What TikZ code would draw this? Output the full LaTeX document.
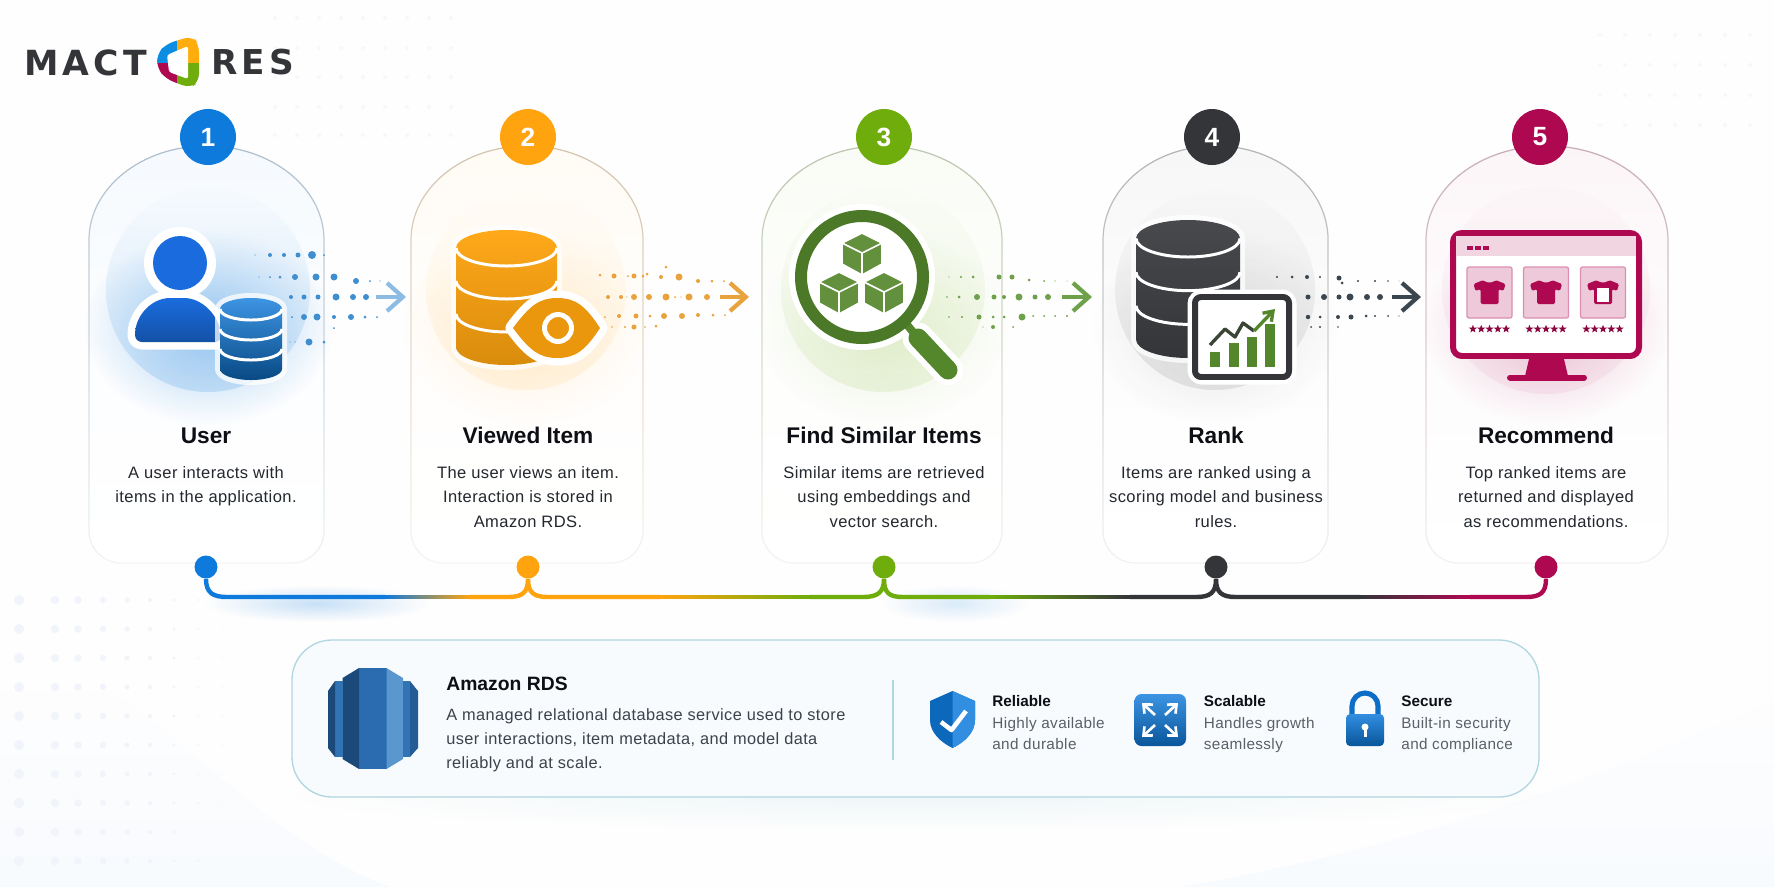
\documentclass[tikz,border=0pt]{standalone}
\usepackage{fontspec}
\setmainfont[LetterSpace=2.5,BoldFeatures={LetterSpace=0}]{Liberation Sans}
\newfontfamily\logofont[LetterSpace=12]{DejaVu Sans}
\usetikzlibrary{arrows.meta,fadings,shapes.geometric}
\definecolor{tone1}{RGB}{13,122,220}
\definecolor{tone2}{RGB}{255,164,14}
\definecolor{tone3}{RGB}{110,173,12}
\definecolor{tone4}{RGB}{51,53,56}
\definecolor{tone5}{RGB}{174,8,80}
\definecolor{flow1}{RGB}{63,143,208}
\definecolor{flow2}{RGB}{232,163,60}
\definecolor{flow3}{RGB}{111,161,74}
\definecolor{flow4}{RGB}{58,70,80}
\definecolor{leaf}{RGB}{84,134,44}
\definecolor{userblue}{RGB}{26,108,222}
\definecolor{rds1}{RGB}{27,74,122}
\definecolor{rds2}{RGB}{43,108,176}
\definecolor{rds3}{RGB}{91,151,207}
\definecolor{rds4}{RGB}{50,115,180}
\definecolor{ink}{RGB}{13,15,20}
\definecolor{bodyink}{RGB}{35,39,46}
\definecolor{panelink}{RGB}{60,66,74}
\definecolor{mutedink}{RGB}{90,96,104}
\definecolor{paledot}{RGB}{238,243,250}
\definecolor{panelfill}{RGB}{248,251,254}
\definecolor{paneledge}{RGB}{176,214,224}
\definecolor{wash}{RGB}{248,251,254}
\tikzfading[name=softglow,inner color=transparent!50,outer color=transparent!100]
\tikzfading[name=edgefade,top color=transparent!10,bottom color=transparent!85]
\tikzset{
  stepdot/.style={circle,fill=#1,text=white,minimum size=1.12cm,inner sep=0pt,font=\bfseries\fontsize{15}{17}\selectfont},
  railbeing/.style={circle,fill=#1,minimum size=.46cm,inner sep=0pt},
  railline/.style={line width=2.5pt},
  cardtitle/.style={anchor=base,text=ink,font=\bfseries\fontsize{12.9}{15}\selectfont},
  cardtext/.style={anchor=north,align=center,inner sep=0pt,text=bodyink,font=\fontsize{9.4}{13.9}\selectfont},
  whitehalo/.style={preaction={draw=white,line width=.2cm,line join=round,draw opacity=.75}},
  flowhead/.style={line width=2.4pt,-{Straight Barb[length=9pt,width=16pt,line width=2.4pt]}},
  feattitle/.style={anchor=base west,inner sep=0pt,text=ink,font=\bfseries\fontsize{8.7}{10}\selectfont},
  feattext/.style={anchor=base west,inner sep=0pt,text=mutedink,font=\fontsize{8.7}{10}\selectfont}
}
% cx, top, rx, ry, height, top colour, bottom colour
\newcommand{\dbstack}[7]{
\pgfmathsetmacro{\dbbot}{#2+#5}
\pgfmathsetmacro{\dbgap}{(#5-2*#4)/3}
\shade[whitehalo,top color=#6,bottom color=#7] (#1-#3,#2+#4) arc[start angle=180,end angle=360,x radius=#3,y radius=#4] -- (#1+#3,\dbbot-#4) arc[start angle=0,end angle=180,x radius=#3,y radius=#4] -- cycle;
\foreach \k in {0,1,2}
{
\draw[white,line width=1.7pt] (#1-#3,#2+#4+\k*\dbgap) arc[start angle=180,end angle=0,x radius=#3,y radius=#4];
}
}
\newcommand{\cubeblock}[2]{
\begin{scope}[shift={(#1,#2)}]
\fill[leaf!92!white,draw=white,line width=.9pt,line join=round] (0,0) -- (20,10) -- (20,31) -- (0,42) -- (-20,31) -- (-20,10) -- cycle;
\draw[white,line width=.9pt] (-20,10) -- (0,20) -- (20,10) (0,20) -- (0,42);
\end{scope}
}
\newcommand{\shirtshape}[2]{
\begin{scope}[shift={(#1,#2)}]
\fill[tone5,rounded corners=.03cm] (-6,-12) .. controls (-3,-9) and (3,-9) .. (6,-12) -- (16,-8) -- (14,-1) -- (9,-3) -- (9,12) -- (-9,12) -- (-9,-3) -- (-14,-1) -- (-16,-8) -- cycle;
\end{scope}
}
\begin{document}
\begin{tikzpicture}[x=0.02cm,y=-0.02cm]
\useasboundingbox (0,0) rectangle (1774,887);
\fill[white!99!gray] (0,0) rectangle (1774,887);

% background
\fill[wash,path fading=north] (0,690) -- (110,690) .. controls (220,770) and (290,850) .. (390,887) -- (0,887) -- cycle;
\fill[wash,path fading=north] (1180,887) .. controls (1400,850) and (1600,780) .. (1774,700) -- (1774,887) -- cycle;
\foreach \x in {275,297,...,462}
\foreach \y in {18,48,77,107,135}
{
\fill[paledot!55!white] (\x,\y) circle (2);
}
\foreach \x in {1600,1625,...,1770}
\foreach \y in {35,65,95,125}
{
\fill[paledot!55!white] (\x,\y) circle (2);
}
\foreach \x in {19,55,78,103,127,150,174,198,222}
\foreach \y in {600,629,...,887}
{
\pgfmathsetmacro{\dotr}{max(0.8,5.5-\x/45)}
\fill[paledot!80!white] (\x,\y) circle (\dotr);
}

% logo
\node[anchor=west,inner sep=0pt,text=tone4,font=\logofont\bfseries\fontsize{19.7}{22}\selectfont] (logoa) at (24,62.5) {MACT};
\node[anchor=west,inner sep=0pt,text=tone4,font=\logofont\bfseries\fontsize{19.5}{22}\selectfont] (logob) at (211,62.5) {RES};
\begin{scope}
\clip[rounded corners=.16cm] (192,36) -- (199,44) -- (199,82) -- (190,88) -- (166,79) -- (157,68) -- (157,54) -- (166,44) -- cycle;
\fill[tone1!85!cyan] (150,30) rectangle (177,63);
\fill[tone2!90!yellow] (177,30) rectangle (205,63);
\fill[tone5] (150,63) rectangle (177,95);
\fill[tone3] (177,63) rectangle (205,95);
\end{scope}
\fill[white,rounded corners=.05cm] (188,46) -- (188,79) -- (169,72) -- (167,55) -- cycle;

% cards
\foreach \n/\lx/\rx/\hx/\hr/\hb/\go/\cx/\sx/\tt/\ty in {
1/89/324/208/102/17/.7/206/208/User/{A user interacts with\\items in the application.},
2/411/643/526/100/10/.28/528/528/Viewed Item/{The user views an item.\\Interaction is stored in\\Amazon RDS.},
3/762/1002/883/102/11/.28/884/884/Find Similar Items/{Similar items are retrieved\\using embeddings and\\vector search.},
4/1103/1328/1215/100/12/.22/1216/1212/Rank/{Items are ranked using a\\scoring model and business\\rules.},
5/1426/1668/1546/104/6/.42/1546/1540/Recommend/{Top ranked items are\\returned and displayed\\as recommendations.}}
{
\pgfmathsetmacro{\rad}{(\rx-\lx)/2}
\shade[top color=tone\n!4,bottom color=white,middle color=tone\n!1] (\lx,240) arc[start angle=180,end angle=360,x radius=\rad,y radius=94] -- (\rx,531) arc[start angle=0,end angle=90,radius=32] -- (\lx+32,563) arc[start angle=90,end angle=180,radius=32] -- cycle;
\draw[tone\n!30!gray!55,line width=.7pt,path fading=edgefade] (\lx,240) arc[start angle=180,end angle=360,x radius=\rad,y radius=94] -- (\rx,531) arc[start angle=0,end angle=90,radius=32] -- (\lx+32,563) arc[start angle=90,end angle=180,radius=32] -- cycle;
\shade[top color=tone\n!4,bottom color=tone\n!\hb] (\hx,290) circle (\hr);
\fill[tone\n,opacity=\go,path fading=softglow] (\hx-125,230) rectangle (\hx+125,425);
\node[stepdot=tone\n] (step\n) at (\sx,137) {\n};
\node[railbeing=tone\n] (dot\n) at (\cx,567) {};
\node[cardtitle] (title\n) at (\cx,443) {\tt};
\node[cardtext] (text\n) at (\cx,466) {\ty};
}

% rail
\fill[tone1!45,path fading=softglow] (205,585) rectangle (430,622);
\fill[tone1!30,path fading=softglow] (880,585) rectangle (1030,622);
\foreach \a/\b/\xa/\xl/\xr/\xb in {1/2/227/385/470/508,2/3/548/660/810/863,3/4/903/990/1130/1196,4/5/1236/1360/1470/1526}
{
\coordinate (turn\a) at (\xa,597);
\coordinate (back\b) at (\xb,597);
\coordinate (fadel\a) at (\xl,597);
\coordinate (fader\a) at (\xr,597);
\draw[railline,tone\a] (dot\a.south) .. controls +(0,14) and +(-14,0) .. (turn\a) -- (fadel\a);
\draw[railline,tone\b] (fader\a) -- (back\b) .. controls +(14,0) and +(0,14) .. (dot\b.south);
\shade[left color=tone\a,right color=tone\b] (\xl,595.2) rectangle (\xr,598.8);
}

% user
\fill[white] (180,263) circle (36);
\fill[userblue] (180,263) circle (27);
\shade[preaction={draw=white,line width=.3cm,line join=round},top color=userblue,bottom color=userblue!75!black,rounded corners=.14cm] (135,342) .. controls (135,315) and (152,298) .. (177,298) .. controls (202,298) and (219,315) .. (222,342) -- cycle;
\dbstack{251}{298}{31}{11}{82}{tone1!80!white}{tone1!60!black}

% dots for step 1
\foreach \x/\y/\r in {255/255/.6,270/255/2,284/255/2,298/255/2.5,312/255/4,324/255/1,259/277/.7,270/277/1,280/277/1.5,295/277/3,316/277/3.5,334/277/3.5,356/281/3,370/281/1,380/281/.7,291/297/2,304/297/2.5,318/297/2.5,336/297/3.5,353/297/3,366/297/3,292/317/1,304/317/3,317/317/3.5,334/317/2,351/317/3,365/317/1.5,377/317/1,334/328/1,290/342/.7,295/342/.7,309/342/3.5,324/342/1.5}
{
\fill[flow1] (\x,\y) circle (\r);
}

% viewed item
\dbstack{506.5}{230}{50.5}{18}{135}{tone2!95!white}{tone2!85!black}
\path[preaction={draw=white,line width=.3cm,line join=round},fill=tone2!92!black] (513,328) .. controls (530,305) and (540,298) .. (557,298) .. controls (575,298) and (585,305) .. (600,328) .. controls (585,351) and (575,358) .. (557,358) .. controls (540,358) and (530,351) .. (513,328) -- cycle;
\draw[white,line width=2.8pt] (558,328) circle (13.5);

% dots for step 2
\foreach \x/\y/\r in {600/275/1.5,614/276/2.5,628/276/1,634/276/2.5,643/276/1.5,647/274/1.5,661/277/2,666/267/1.5,679/277/3.5,698/281/2,712/281/1.5,724/281/1,608/297/2,621/297/2,627/297/.7,634/297/3,649/297/3,666/297/3.5,675/297/1,681/297/.7,689/297/3.5,707/297/3,605/317/1,619/316/2,636/316/2.5,650/316/1.5,664/316/3,682/316/3,698/315/2,713/315/1.5,725/315/1,612/327/.8,625/327/1.2,634/327/2.5,645/327/.8,656/326/1.5}
{
\fill[flow2] (\x,\y) circle (\r);
}

% find similar items
\fill[white] (862,277) circle (73);
\draw[white,line width=.62cm,line cap=round] (918,338) -- (948,370);
\draw[leaf,line width=.16cm] (903,320) -- (918,338);
\draw[leaf,line width=.38cm,line cap=round] (918,338) -- (948,370);
\draw[leaf!90!black,line width=.24cm] (862,277) circle (61);
\cubeblock{862}{233}
\cubeblock{839}{272}
\cubeblock{884}{272}

% dots for step 3
\foreach \x/\y/\r in {949/277/.7,961/277/1.2,973/277/1.5,999/277/2.5,1012/277/2.5,1029/280/1.5,1044/281/1,1055/281/.7,1067/281/.5,947/297/.8,959/297/1.5,977/297/3,994/297/2.5,1004/297/2,1019/297/3.5,1035/297/2.5,1048/297/3,949/317/.8,962/317/1.2,979/317/2.5,993/317/1.5,1004/317/1.5,1022/317/3.5,1033/316/1,1044/316/1,1055/316/1,1067/316/1.2,993/327/2,983/327/.6,1013/327/1}
{
\fill[flow3] (\x,\y) circle (\r);
}

% rank
\dbstack{1188}{220}{52}{18.5}{138}{tone4!90!white}{tone4}
\draw[white,line width=.3cm,rounded corners=.14cm] (1195,297) rectangle (1289,377);
\draw[tone4,fill=white,line width=3.4pt,rounded corners=.12cm] (1195,297) rectangle (1289,377);
\foreach \x/\y in {1210/352,1229/343,1247/337,1265/324}
{
\fill[leaf] (\x,\y) rectangle (\x+10,367);
}
\draw[tone4!80!leaf,line width=1.9pt,line join=round] (1210,345) -- (1225,329) -- (1235,337) -- (1243,323) -- (1254,331);
\draw[leaf,line width=1.9pt,-{Straight Barb[length=5pt,width=7pt]}] (1254,331) -- (1275,309);

% dots for step 4
\foreach \x/\y/\r in {1277/277/1.2,1292/277/1.5,1307/277/2,1320/277/1.2,1339/278/2.5,1342/283/1.5,1358/281/1.2,1375/281/1.2,1388/281/.8,1399/281/.4,1308/297/2.5,1324/297/3,1339/297/2.5,1350/297/3.5,1367/297/3,1380/297/3,1308/317/2.2,1320/317/1.5,1338/317/2,1351/317/2.5,1366/316/1.5,1375/316/1.2,1388/316/1,1399/316/.6,1311/327/1,1320/327/1.2,1338/327/.8}
{
\fill[flow4] (\x,\y) circle (\r);
}

% recommend
\fill[tone5] (1530,355) -- (1563,355) -- (1568,376) -- (1525,376) -- cycle;
\draw[tone5,line width=.12cm,line cap=round] (1510,377.5) -- (1584,377.5);
\draw[tone5,fill=white,line width=3.4pt,rounded corners=.18cm] (1453,233) rectangle (1639,356);
\fill[tone5!17] (1456,236) rectangle (1636,256);
\foreach \x in {1467,1475,1483}
{
\fill[tone5] (\x,246) rectangle (\x+6,250);
}
\foreach \x/\j in {1489.5/1,1546/2,1603/3}
{
\draw[tone5!45,fill=tone5!22,line width=.7pt,rounded corners=.04cm] (\x-22.5,267) rectangle (\x+22.5,318);
\shirtshape{\x}{292}
\foreach \i in {-2,-1,0,1,2}
{
\node[star,star points=5,star point ratio=2.4,fill=tone5!80!black,inner sep=0pt,minimum size=.17cm] (star\j\i) at (\x+\i*8.3,329) {};
}
}
\fill[white] (1597,288) rectangle (1609,302);

% arrows between the steps
\foreach \n/\xa/\xb in {1/376/406,2/720/749,3/1062/1092,4/1392/1421}
{
\coordinate (flowa\n) at (\xa,297);
\coordinate (flowb\n) at (\xb,297);
}
\draw[flowhead,flow1!60!white] (flowa1) -- (flowb1);
\draw[flowhead,flow2] (flowa2) -- (flowb2);
\draw[flowhead,flow3] (flowa3) -- (flowb3);
\draw[flowhead,flow4] (flowa4) -- (flowb4);

% panel
\fill[paneledge!40,path fading=softglow] (292,760) rectangle (1539,830);
\draw[paneledge,fill=panelfill,line width=.75pt,rounded corners=.8cm] (292,640) rectangle (1539,797);
\fill[rds2] (359,668) rectangle (386.5,769);
\fill[rds1] (342.5,678) -- (359,668) -- (359,769) -- (342.5,759) -- cycle;
\fill[rds3] (386.5,668) -- (403,678) -- (403,759) -- (386.5,769) -- cycle;
\fill[rds4] (342.5,681) -- (335,681) -- (335,757) -- (342.5,757) -- cycle;
\fill[rds1] (335,681) -- (328,691) -- (328,748) -- (335,757) -- cycle;
\fill[rds4] (403,681) -- (410,681) -- (410,757) -- (403,757) -- cycle;
\fill[rds2!85!black] (410,681) -- (418,691) -- (418,748) -- (410,757) -- cycle;
\node[anchor=base west,inner sep=0pt,text=ink,font=\bfseries\fontsize{11}{13}\selectfont] (rdstitle) at (446,690) {Amazon RDS};
\node[anchor=north west,align=left,inner sep=0pt,text=panelink,font=\fontsize{9.3}{13.7}\selectfont] (rdstext) at (446,708) {A managed relational database service used to store\\user interactions, item metadata, and model data\\reliably and at scale.};
\draw[paneledge,line width=.6pt] (893,680) -- (893,760);

% shield
\fill[tone1!85!black] (952.5,691) -- (975,701) -- (975,720) .. controls (975,732) and (965,742) .. (952.5,748) .. controls (940,742) and (930,732) .. (930,720) -- (930,701) -- cycle;
\fill[tone1!85!white] (952.5,691) -- (975,701) -- (975,720) .. controls (975,732) and (965,742) .. (952.5,748) -- cycle;
\draw[white,line width=2.6pt,line join=round] (941,722) -- (951.5,730) -- (966,711);
\node[feattitle] (relt) at (992,706) {Reliable};
\node[feattext] (rela) at (992,728) {Highly available};
\node[feattext] (relb) at (992,749) {and durable};

% scale
\shade[top color=tone1!80!white,bottom color=tone1!70!black,rounded corners=.14cm] (1134.5,694) rectangle (1186,746);
\foreach \dx/\dy in {1/1,1/-1,-1/1,-1/-1}
{
\draw[white,line width=1.5pt,-{Straight Barb[length=4pt,width=7pt]}] (1160+\dx*5,720+\dy*5) -- (1160+\dx*18,720+\dy*17);
}
\node[feattitle] (scat) at (1203.5,706) {Scalable};
\node[feattext] (scaa) at (1203.5,728) {Handles growth};
\node[feattext] (scab) at (1203.5,749) {seamlessly};

% lock
\draw[tone1!90!black,line width=2.9pt] (1352,716) -- (1352,706) arc[start angle=180,end angle=360,radius=13] -- (1378,716);
\shade[top color=tone1!85!white,bottom color=tone1!70!black,rounded corners=.08cm] (1346,714) rectangle (1384,746);
\fill[white] (1365,727) circle (3.5);
\fill[white] (1363.5,727) rectangle (1366.5,737);
\node[feattitle] (sect) at (1401,706) {Secure};
\node[feattext] (seca) at (1401,728) {Built-in security};
\node[feattext] (secb) at (1401,749) {and compliance};
\end{tikzpicture}
\end{document}
